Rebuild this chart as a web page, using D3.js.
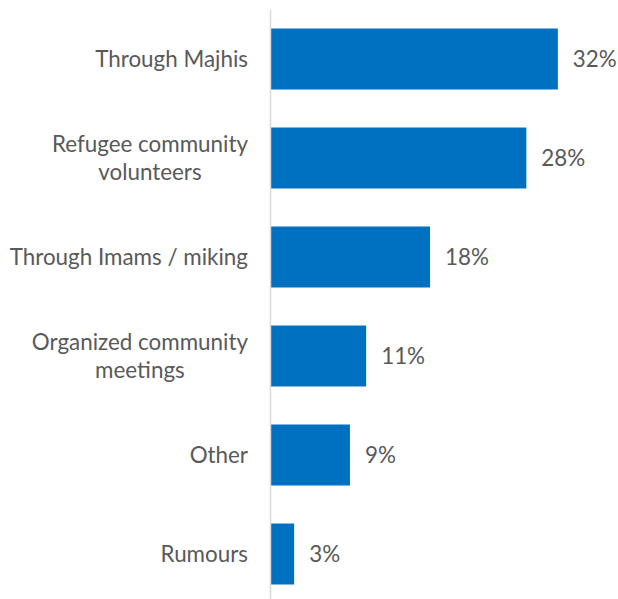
<!DOCTYPE html>
<html>
<head>
<meta charset="utf-8">
<script src="https://cdn.jsdelivr.net/npm/d3@7"></script>
<style>
  html, body { margin: 0; padding: 0; background: #fff; }
  svg { display: block; }
</style>
</head>
<body>
<div id="chart"></div>
<script>
const categories = [
  ["Through Majhis"],
  ["Refugee community", "volunteers"],
  ["Through Imams / miking"],
  ["Organized community", "meetings"],
  ["Other"],
  ["Rumours"]
];
const values = [31.9, 28.4, 17.7, 10.6, 8.8, 2.6];

const W = 618, H = 599;
const axisX = 270;
const fontFamily = "Lato, 'Open Sans', sans-serif";
const fontSize = "22.4px";
const textColor = "#595959";
const barColor = "#0070C0";

const svg = d3.select("#chart").append("svg")
  .attr("width", W).attr("height", H);

const keys = categories.map(c => c.join(" "));
const y = d3.scaleBand().domain(keys).range([9.5, 603.5])
  .paddingInner(0.384).paddingOuter(0.192);
const x = d3.scaleLinear().domain([0, 35]).range([axisX + 0.75, axisX + 0.75 + 35 * 9]);

svg.selectAll("rect.bar").data(values).enter().append("rect")
  .attr("class", "bar")
  .attr("x", x(0))
  .attr("y", (d, i) => y(keys[i]))
  .attr("width", d => x(d) - x(0))
  .attr("height", y.bandwidth())
  .attr("fill", barColor);

const pad = 22;
const axis = svg.append("g").attr("transform", `translate(${axisX},0)`)
  .call(d3.axisLeft(y).tickSize(0).tickPadding(pad).tickSizeOuter(0));
axis.select(".domain").attr("stroke", "#d9d9d9").attr("stroke-width", 1.5);
axis.selectAll(".tick text")
  .attr("fill", textColor)
  .style("font-family", fontFamily)
  .style("font-size", fontSize)
  .each(function(d, i) {
    const lines = categories[i];
    const t = d3.select(this);
    t.text(null).attr("dy", null);
    const lh = 28.5;
    const spans = lines.map((ln, j) => t.append("tspan")
        .attr("x", -pad)
        .attr("y", (j - (lines.length - 1) / 2) * lh)
        .attr("dy", "0.35em")
        .text(ln));
    if (lines.length > 1) {
      const widths = spans.map(s => s.node().getComputedTextLength());
      const maxW = d3.max(widths);
      t.attr("text-anchor", "middle");
      spans.forEach(s => s.attr("x", -pad - maxW / 2));
    } else {
      t.attr("text-anchor", "end");
    }
  });

svg.selectAll("text.val").data(values).enter().append("text")
  .attr("class", "val")
  .attr("x", d => x(d) + 15)
  .attr("y", (d, i) => y(keys[i]) + y.bandwidth() / 2)
  .attr("dy", "0.35em")
  .attr("fill", textColor)
  .style("font-family", fontFamily)
  .style("font-size", fontSize)
  .text(d => d3.format(".0f")(d) + "%");
</script>
</body>
</html>
